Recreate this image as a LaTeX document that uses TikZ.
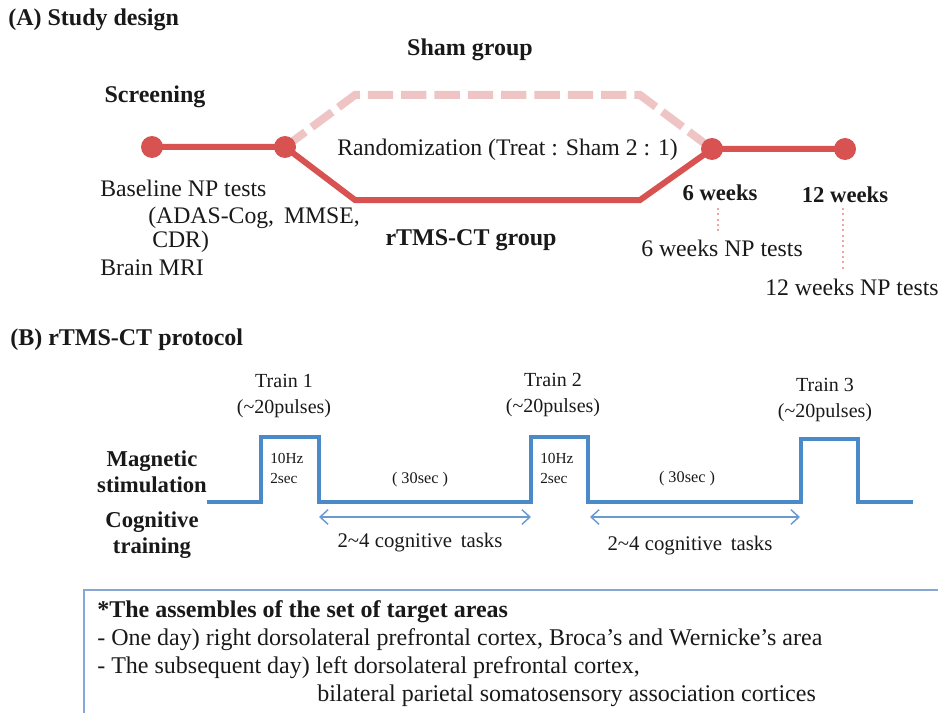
\documentclass[tikz,border=0pt]{standalone}
\usepackage{fontspec}
\setmainfont{Liberation Serif}
\usetikzlibrary{arrows.meta}
\definecolor{tred}{RGB}{217,82,82}
\definecolor{tpink}{RGB}{238,196,196}
\definecolor{tdot}{RGB}{240,165,165}
\definecolor{tblue}{RGB}{74,138,200}
\definecolor{tarrow}{RGB}{105,155,210}
\definecolor{tbox}{RGB}{135,168,212}
\definecolor{ttext}{RGB}{25,25,25}
\tikzset{
  head/.style={font=\fontsize{18}{21}\selectfont\bfseries, text=ttext, inner sep=0pt},
  lbl/.style={font=\fontsize{17.8}{22}\selectfont, text=ttext, inner sep=0pt},
  trainlbl/.style={font=\fontsize{15}{20}\selectfont, text=ttext, inner sep=0pt, align=center},
  rowlbl/.style={font=\fontsize{17}{19.5}\selectfont\bfseries, text=ttext, inner sep=0pt, align=center},
  smalllbl/.style={font=\fontsize{11.5}{15}\selectfont, text=ttext, inner sep=0pt, align=left},
  durlbl/.style={font=\fontsize{12.2}{14}\selectfont, text=ttext, inner sep=0pt},
  tasklbl/.style={font=\fontsize{15.6}{18}\selectfont, text=ttext, inner sep=0pt},
  boxtxt/.style={font=\fontsize{18}{21}\selectfont, text=ttext, inner sep=0pt, anchor=base west},
  dot/.style={circle, fill=tred, minimum size=16.5pt, inner sep=0pt},
  redline/.style={draw=tred, line width=4.5pt, line join=miter},
  shamline/.style={draw=tpink, line width=6pt, dash pattern=on 19pt off 6pt},
  tickline/.style={draw=tdot, line width=1.6pt, dash pattern=on 1.6pt off 2.4pt},
  wave/.style={draw=tblue, line width=2.6pt, line join=miter},
  taskarrow/.style={draw=tarrow, line width=1.1pt, {Straight Barb[length=6pt,width=11pt]}-{Straight Barb[length=6pt,width=11pt]}},
}
\begin{document}
\begin{tikzpicture}[x=0.75pt,y=-0.75pt]
\useasboundingbox (0,0) rectangle (938,713);
% ---------------- (A)
\node[head, anchor=west] (titleA) at (8,20) {(A) Study design};
\node[head] (sham) at (470,50) {Sham group};
\node[head] (screen) at (155,97) {Screening};
\coordinate (p1) at (152,147);
\coordinate (p2) at (285,147);
\coordinate (p3) at (712,149);
\coordinate (p4) at (845,149);
\coordinate (s1) at (355,95);
\coordinate (s2) at (640,95);
\coordinate (t1) at (355,200);
\coordinate (t2) at (640,200);
\draw[shamline] (p2) -- (s1) -- (s2) -- (p3);
\draw[redline] (p1) -- (p2) -- (t1) -- (t2) -- (p3) -- (p4);
\node[dot] (c1) at (p1) {};
\node[dot] (c2) at (p2) {};
\node[dot] (c3) at (p3) {};
\node[dot] (c4) at (p4) {};
\node[lbl, anchor=west] (rand) at (337,150) {Randomization (Treat : Sham 2 : 1)};
\node[lbl, anchor=west] (base) at (100,188) {Baseline NP tests};
\node[lbl, anchor=west] (adas) at (148,218) {(ADAS-Cog,\, MMSE,};
\node[lbl, anchor=west] (cdr) at (152,242) {CDR)};
\node[lbl, anchor=west] (mri) at (100,268) {Brain MRI};
\node[head] (rtms) at (471,240) {rTMS-CT group};
\node[head, font=\fontsize{17}{20}\selectfont\bfseries] (w6) at (720,193) {6 weeks};
\node[head, font=\fontsize{17}{20}\selectfont\bfseries] (w12) at (845,195) {12 weeks};
\node[lbl, anchor=west] (np6) at (641,248) {6 weeks NP tests};
\node[lbl, anchor=west] (np12) at (765,287) {12 weeks NP tests};
\coordinate (d6a) at (718,208);
\coordinate (d6b) at (718,232);
\coordinate (d12a) at (843,208);
\coordinate (d12b) at (843,270);
\draw[tickline] (d6a) -- (d6b);
\draw[tickline] (d12a) -- (d12b);
% ---------------- (B)
\node[head, anchor=west] (titleB) at (10,340) {(B) rTMS-CT protocol};
\node[trainlbl] (tr1) at (284,396) {Train 1\\(\textasciitilde 20pulses)};
\node[trainlbl] (tr2) at (553,395) {Train 2\\(\textasciitilde 20pulses)};
\node[trainlbl] (tr3) at (825,400) {Train 3\\(\textasciitilde 20pulses)};
\node[rowlbl] (mag) at (152,472) {Magnetic\\stimulation};
\node[rowlbl] (cog) at (152,535) {Cognitive\\training};
\coordinate (w0) at (207,502);
\coordinate (a1) at (319,517);
\coordinate (a2) at (531,517);
\coordinate (a3) at (590,517);
\coordinate (a4) at (800,517);
\draw[wave] (w0) -- (261,502) -- (261,437) -- (319,437) -- (319,502) -- (531,502)
  -- (531,437) -- (588,437) -- (588,502) -- (801,502) -- (801,439) -- (858,439)
  -- (858,502) -- (913,502);
\node[smalllbl, anchor=west] (hz1) at (270,468) {10Hz\\2sec};
\node[smalllbl, anchor=west] (hz2) at (540,468) {10Hz\\2sec};
\node[durlbl] (d1) at (420,480) {( 30sec )};
\node[durlbl] (d2) at (687,479) {( 30sec )};
\draw[taskarrow] (a1) -- (a2);
\draw[taskarrow] (a3) -- (a4);
\node[tasklbl] (task1) at (420,543) {2\textasciitilde 4 cognitive\, tasks};
\node[tasklbl] (task2) at (690,546) {2\textasciitilde 4 cognitive\, tasks};
% ---------------- box
\coordinate (bx1) at (84,590);
\coordinate (bx2) at (960,740);
\draw[tbox, line width=1.3pt] (bx1) rectangle (bx2);
\node[boxtxt, font=\fontsize{18}{21}\selectfont\bfseries] (b1) at (97,617) {*The assembles of the set of target areas};
\node[boxtxt] (b2) at (97,645) {- One day) right dorsolateral prefrontal cortex, Broca’s and Wernicke’s area};
\node[boxtxt] (b3) at (97,673) {- The subsequent day) left dorsolateral prefrontal cortex,};
\node[boxtxt] (b4) at (317,701) {bilateral parietal somatosensory association cortices};
\end{tikzpicture}
\end{document}
